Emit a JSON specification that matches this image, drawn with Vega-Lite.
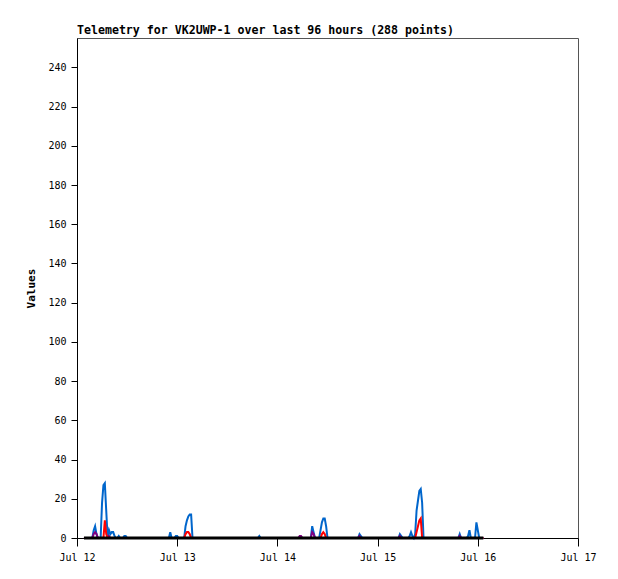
{
  "$schema": "https://vega.github.io/schema/vega-lite/v6.json",
  "width": 501,
  "height": 500,
  "autosize": {"type": "none"},
  "padding": {"left": 77, "top": 38, "right": 40, "bottom": 41},
  "background": "white",
  "title": {
    "text": "Telemetry for VK2UWP-1 over last 96 hours (288 points)",
    "anchor": "start",
    "frame": "group",
    "font": "DejaVu Sans Mono",
    "fontSize": 11.6,
    "fontWeight": "bold",
    "color": "black",
    "offset": 1
  },
  "config": {
    "view": {"stroke": "#555555", "strokeWidth": 1},
    "axis": {
      "domainColor": "black",
      "tickColor": "black",
      "labelColor": "black",
      "labelFont": "DejaVu Sans Mono",
      "labelFontSize": 10,
      "titleFont": "DejaVu Sans Mono",
      "titleFontSize": 11,
      "titleFontWeight": "bold",
      "titleColor": "black",
      "grid": false
    }
  },
  "datasets": {
    "tele": [
      {"t": "2024-07-12T01:40:00Z", "s": "blue", "v": 0},
      {"t": "2024-07-12T03:40:00Z", "s": "blue", "v": 0},
      {"t": "2024-07-12T04:00:00Z", "s": "blue", "v": 4},
      {"t": "2024-07-12T04:20:00Z", "s": "blue", "v": 6},
      {"t": "2024-07-12T04:40:00Z", "s": "blue", "v": 2},
      {"t": "2024-07-12T05:00:00Z", "s": "blue", "v": 0},
      {"t": "2024-07-12T05:40:00Z", "s": "blue", "v": 0},
      {"t": "2024-07-12T06:00:00Z", "s": "blue", "v": 18},
      {"t": "2024-07-12T06:20:00Z", "s": "blue", "v": 27},
      {"t": "2024-07-12T06:40:00Z", "s": "blue", "v": 28},
      {"t": "2024-07-12T07:00:00Z", "s": "blue", "v": 14},
      {"t": "2024-07-12T07:20:00Z", "s": "blue", "v": 0},
      {"t": "2024-07-12T07:40:00Z", "s": "blue", "v": 4},
      {"t": "2024-07-12T08:00:00Z", "s": "blue", "v": 2},
      {"t": "2024-07-12T08:20:00Z", "s": "blue", "v": 3},
      {"t": "2024-07-12T08:40:00Z", "s": "blue", "v": 3},
      {"t": "2024-07-12T09:00:00Z", "s": "blue", "v": 1},
      {"t": "2024-07-12T09:20:00Z", "s": "blue", "v": 0},
      {"t": "2024-07-12T09:40:00Z", "s": "blue", "v": 0},
      {"t": "2024-07-12T10:00:00Z", "s": "blue", "v": 1},
      {"t": "2024-07-12T10:20:00Z", "s": "blue", "v": 0},
      {"t": "2024-07-12T11:00:00Z", "s": "blue", "v": 0},
      {"t": "2024-07-12T11:20:00Z", "s": "blue", "v": 1},
      {"t": "2024-07-12T11:40:00Z", "s": "blue", "v": 1},
      {"t": "2024-07-12T12:00:00Z", "s": "blue", "v": 0},
      {"t": "2024-07-12T22:00:00Z", "s": "blue", "v": 0},
      {"t": "2024-07-12T22:20:00Z", "s": "blue", "v": 3},
      {"t": "2024-07-12T22:40:00Z", "s": "blue", "v": 0},
      {"t": "2024-07-12T23:20:00Z", "s": "blue", "v": 0},
      {"t": "2024-07-12T23:40:00Z", "s": "blue", "v": 1},
      {"t": "2024-07-13T00:00:00Z", "s": "blue", "v": 1},
      {"t": "2024-07-13T00:20:00Z", "s": "blue", "v": 0},
      {"t": "2024-07-13T01:40:00Z", "s": "blue", "v": 0},
      {"t": "2024-07-13T02:00:00Z", "s": "blue", "v": 6},
      {"t": "2024-07-13T02:20:00Z", "s": "blue", "v": 9},
      {"t": "2024-07-13T02:40:00Z", "s": "blue", "v": 11},
      {"t": "2024-07-13T03:00:00Z", "s": "blue", "v": 12},
      {"t": "2024-07-13T03:20:00Z", "s": "blue", "v": 12},
      {"t": "2024-07-13T03:40:00Z", "s": "blue", "v": 0},
      {"t": "2024-07-13T19:20:00Z", "s": "blue", "v": 0},
      {"t": "2024-07-13T19:40:00Z", "s": "blue", "v": 1},
      {"t": "2024-07-13T20:00:00Z", "s": "blue", "v": 0},
      {"t": "2024-07-14T08:00:00Z", "s": "blue", "v": 0},
      {"t": "2024-07-14T08:20:00Z", "s": "blue", "v": 6},
      {"t": "2024-07-14T08:40:00Z", "s": "blue", "v": 3},
      {"t": "2024-07-14T09:00:00Z", "s": "blue", "v": 0},
      {"t": "2024-07-14T10:00:00Z", "s": "blue", "v": 0},
      {"t": "2024-07-14T10:20:00Z", "s": "blue", "v": 4},
      {"t": "2024-07-14T10:40:00Z", "s": "blue", "v": 8},
      {"t": "2024-07-14T11:00:00Z", "s": "blue", "v": 10},
      {"t": "2024-07-14T11:20:00Z", "s": "blue", "v": 10},
      {"t": "2024-07-14T11:40:00Z", "s": "blue", "v": 6},
      {"t": "2024-07-14T12:00:00Z", "s": "blue", "v": 0},
      {"t": "2024-07-14T19:20:00Z", "s": "blue", "v": 0},
      {"t": "2024-07-14T19:40:00Z", "s": "blue", "v": 2},
      {"t": "2024-07-14T20:00:00Z", "s": "blue", "v": 1},
      {"t": "2024-07-14T20:20:00Z", "s": "blue", "v": 0},
      {"t": "2024-07-15T05:00:00Z", "s": "blue", "v": 0},
      {"t": "2024-07-15T05:20:00Z", "s": "blue", "v": 2},
      {"t": "2024-07-15T05:40:00Z", "s": "blue", "v": 1},
      {"t": "2024-07-15T06:00:00Z", "s": "blue", "v": 0},
      {"t": "2024-07-15T07:20:00Z", "s": "blue", "v": 0},
      {"t": "2024-07-15T07:40:00Z", "s": "blue", "v": 1},
      {"t": "2024-07-15T08:00:00Z", "s": "blue", "v": 3},
      {"t": "2024-07-15T08:20:00Z", "s": "blue", "v": 1},
      {"t": "2024-07-15T08:40:00Z", "s": "blue", "v": 0},
      {"t": "2024-07-15T09:00:00Z", "s": "blue", "v": 2},
      {"t": "2024-07-15T09:20:00Z", "s": "blue", "v": 14},
      {"t": "2024-07-15T09:40:00Z", "s": "blue", "v": 19},
      {"t": "2024-07-15T10:00:00Z", "s": "blue", "v": 24},
      {"t": "2024-07-15T10:20:00Z", "s": "blue", "v": 25},
      {"t": "2024-07-15T10:40:00Z", "s": "blue", "v": 18},
      {"t": "2024-07-15T11:00:00Z", "s": "blue", "v": 0},
      {"t": "2024-07-15T19:20:00Z", "s": "blue", "v": 0},
      {"t": "2024-07-15T19:40:00Z", "s": "blue", "v": 2},
      {"t": "2024-07-15T20:00:00Z", "s": "blue", "v": 0},
      {"t": "2024-07-15T21:20:00Z", "s": "blue", "v": 0},
      {"t": "2024-07-15T21:40:00Z", "s": "blue", "v": 1},
      {"t": "2024-07-15T22:00:00Z", "s": "blue", "v": 4},
      {"t": "2024-07-15T22:20:00Z", "s": "blue", "v": 0},
      {"t": "2024-07-15T23:20:00Z", "s": "blue", "v": 0},
      {"t": "2024-07-15T23:40:00Z", "s": "blue", "v": 8},
      {"t": "2024-07-16T00:00:00Z", "s": "blue", "v": 4},
      {"t": "2024-07-16T00:20:00Z", "s": "blue", "v": 0},
      {"t": "2024-07-16T01:20:00Z", "s": "blue", "v": 0},

      {"t": "2024-07-12T01:40:00Z", "s": "purple", "v": 0},
      {"t": "2024-07-12T03:40:00Z", "s": "purple", "v": 0},
      {"t": "2024-07-12T04:00:00Z", "s": "purple", "v": 2},
      {"t": "2024-07-12T04:20:00Z", "s": "purple", "v": 3},
      {"t": "2024-07-12T04:40:00Z", "s": "purple", "v": 2},
      {"t": "2024-07-12T05:00:00Z", "s": "purple", "v": 0},
      {"t": "2024-07-12T07:20:00Z", "s": "purple", "v": 0},
      {"t": "2024-07-12T07:40:00Z", "s": "purple", "v": 1},
      {"t": "2024-07-12T08:00:00Z", "s": "purple", "v": 0},
      {"t": "2024-07-14T05:00:00Z", "s": "purple", "v": 0},
      {"t": "2024-07-14T05:20:00Z", "s": "purple", "v": 1},
      {"t": "2024-07-14T05:40:00Z", "s": "purple", "v": 1},
      {"t": "2024-07-14T06:00:00Z", "s": "purple", "v": 0},
      {"t": "2024-07-14T08:00:00Z", "s": "purple", "v": 0},
      {"t": "2024-07-14T08:20:00Z", "s": "purple", "v": 3},
      {"t": "2024-07-14T08:40:00Z", "s": "purple", "v": 2},
      {"t": "2024-07-14T09:00:00Z", "s": "purple", "v": 0},
      {"t": "2024-07-14T19:20:00Z", "s": "purple", "v": 0},
      {"t": "2024-07-14T19:40:00Z", "s": "purple", "v": 1},
      {"t": "2024-07-14T20:00:00Z", "s": "purple", "v": 0},
      {"t": "2024-07-15T05:00:00Z", "s": "purple", "v": 0},
      {"t": "2024-07-15T05:20:00Z", "s": "purple", "v": 1},
      {"t": "2024-07-15T05:40:00Z", "s": "purple", "v": 0},
      {"t": "2024-07-15T19:20:00Z", "s": "purple", "v": 0},
      {"t": "2024-07-15T19:40:00Z", "s": "purple", "v": 1},
      {"t": "2024-07-15T20:00:00Z", "s": "purple", "v": 0},
      {"t": "2024-07-16T01:20:00Z", "s": "purple", "v": 0},

      {"t": "2024-07-12T01:40:00Z", "s": "red", "v": 0},
      {"t": "2024-07-12T06:20:00Z", "s": "red", "v": 0},
      {"t": "2024-07-12T06:40:00Z", "s": "red", "v": 9},
      {"t": "2024-07-12T07:00:00Z", "s": "red", "v": 2},
      {"t": "2024-07-12T07:20:00Z", "s": "red", "v": 0},
      {"t": "2024-07-13T01:40:00Z", "s": "red", "v": 0},
      {"t": "2024-07-13T02:00:00Z", "s": "red", "v": 2},
      {"t": "2024-07-13T02:20:00Z", "s": "red", "v": 3},
      {"t": "2024-07-13T02:40:00Z", "s": "red", "v": 3},
      {"t": "2024-07-13T03:00:00Z", "s": "red", "v": 2},
      {"t": "2024-07-13T03:20:00Z", "s": "red", "v": 0},
      {"t": "2024-07-14T10:20:00Z", "s": "red", "v": 0},
      {"t": "2024-07-14T10:40:00Z", "s": "red", "v": 2},
      {"t": "2024-07-14T11:00:00Z", "s": "red", "v": 3},
      {"t": "2024-07-14T11:20:00Z", "s": "red", "v": 2},
      {"t": "2024-07-14T11:40:00Z", "s": "red", "v": 0},
      {"t": "2024-07-15T09:00:00Z", "s": "red", "v": 0},
      {"t": "2024-07-15T09:20:00Z", "s": "red", "v": 3},
      {"t": "2024-07-15T09:40:00Z", "s": "red", "v": 6},
      {"t": "2024-07-15T10:00:00Z", "s": "red", "v": 9},
      {"t": "2024-07-15T10:20:00Z", "s": "red", "v": 10},
      {"t": "2024-07-15T10:40:00Z", "s": "red", "v": 0},
      {"t": "2024-07-16T01:20:00Z", "s": "red", "v": 0},

      {"t": "2024-07-12T01:40:00Z", "s": "black", "v": 0},
      {"t": "2024-07-16T01:20:00Z", "s": "black", "v": 0}
    ]
  },
  "data": {"name": "tele"},
  "encoding": {
    "x": {
      "field": "t",
      "type": "temporal",
      "scale": {
        "type": "utc",
        "domain": [
          {"year": 2024, "month": 7, "date": 12, "utc": true},
          {"year": 2024, "month": 7, "date": 17, "utc": true}
        ]
      },
      "axis": {
        "title": null,
        "format": "%b %d",
        "tickCount": {"interval": "day", "step": 1},
        "labelFlush": false,
        "labelOverlap": false,
        "tickSize": 8,
        "labelPadding": 6
      }
    },
    "y": {
      "field": "v",
      "type": "quantitative",
      "scale": {"domain": [0, 255], "nice": false, "zero": true},
      "axis": {
        "title": "Values",
        "values": [0, 20, 40, 60, 80, 100, 120, 140, 160, 180, 200, 220, 240],
        "tickSize": 6,
        "labelPadding": 5,
        "titlePadding": 11
      }
    }
  },
  "layer": [
    {"transform": [{"filter": "datum.s == 'blue'"}], "mark": {"type": "line", "color": "#0066cc", "strokeWidth": 2}},
    {"transform": [{"filter": "datum.s == 'purple'"}], "mark": {"type": "line", "color": "#800080", "strokeWidth": 2}},
    {"transform": [{"filter": "datum.s == 'red'"}], "mark": {"type": "line", "color": "#ff0000", "strokeWidth": 2}},
    {"transform": [{"filter": "datum.s == 'black'"}], "mark": {"type": "line", "color": "black", "strokeWidth": 3}}
  ]
}
